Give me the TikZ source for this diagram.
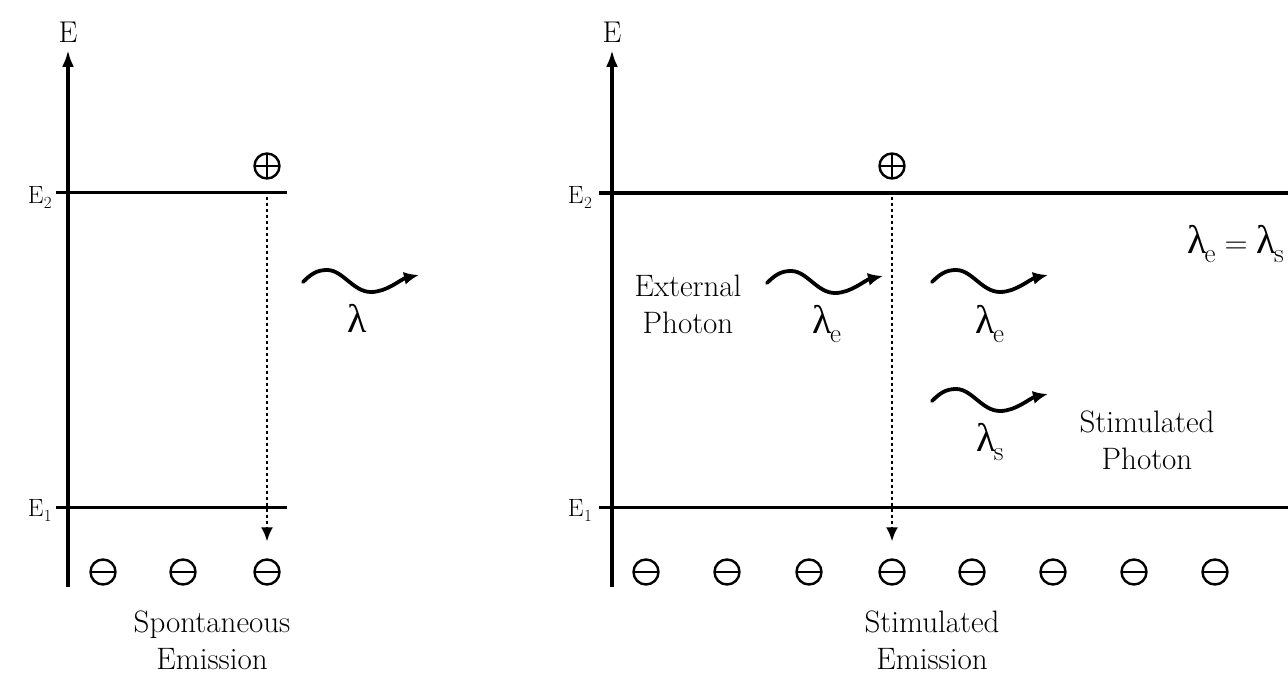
\documentclass[tikz,border=0pt]{standalone}
\usepackage{fontspec}
\newfontfamily\grk{Liberation Serif}
\usetikzlibrary{arrows.meta}
\newcommand{\lamsub}[1]{{\grk λ}\kern-2pt\raisebox{-9pt}{\fontsize{27}{27}\selectfont #1}}
\newcommand{\elev}[1]{E\kern0.5pt\raisebox{-5pt}{\fontsize{17}{17}\selectfont #1}}
\begin{document}
\begin{tikzpicture}[x=1pt,y=-1pt,
  axis/.style={line width=4.5pt,-{Latex[length=17pt,width=12pt]}},
  level/.style={line width=3pt},
  transition/.style={line width=2.2pt,dash pattern=on 3.5pt off 2.5pt,-{Latex[length=14pt,width=12pt]}},
  wave/.style={line width=3.8pt,line cap=round,-{Latex[length=15pt,width=13pt]}},
  axlabel/.style={font=\fontsize{30}{32}\selectfont,inner sep=0pt},
  elabel/.style={font=\fontsize{25}{27}\selectfont,inner sep=0pt},
  txt/.style={font=\fontsize{31}{37}\selectfont,align=center,inner sep=0pt},
  lam/.style={font=\fontsize{40}{42}\selectfont,inner sep=0pt},
  hole/.style={circle,draw,line width=2.4pt,minimum size=25pt,inner sep=0pt,
    path picture={\draw[line width=2.4pt] (path picture bounding box.west) -- (path picture bounding box.east)
      (path picture bounding box.north) -- (path picture bounding box.south);}},
  elec/.style={circle,draw,line width=2.4pt,minimum size=25pt,inner sep=0pt,
    path picture={\draw[line width=2.4pt] (path picture bounding box.west) -- (path picture bounding box.east);}},
  photon/.pic={\draw[wave] (0,0) .. controls (8,-8) and (14,-12) .. (24,-12)
     .. controls (40,-12) and (50,10) .. (68,10) .. controls (84,10) and (98,-3) .. (116,-7);}
]
\useasboundingbox (0,0) rectangle (1288,679);

% ---------- left diagram ----------
\coordinate (A1b) at (68,587); \coordinate (A1t) at (68,50);
\draw[axis] (A1b) -- (A1t);
\node[axlabel] (E1ax) at (68,32) {E};
\coordinate (L2a) at (56,193); \coordinate (L2b) at (287,193);
\coordinate (L1a) at (56,507); \coordinate (L1b) at (287,507);
\draw[level] (L2a) -- (L2b);
\draw[level] (L1a) -- (L1b);
\node[elabel,anchor=east] (lE2) at (52,197) {\elev{2}};
\node[elabel,anchor=east] (lE1) at (52,510) {\elev{1}};
\node[hole] (p1) at (267,166) {};
\node[elec] (m1) at (103,572) {};
\node[elec] (m2) at (183,572) {};
\node[elec] (m3) at (267,572) {};
\draw[transition] ([yshift=-17pt]p1.south) -- ([yshift=17pt]m3.north);
\node[txt] (spont) at (212,640) {Spontaneous\\Emission};
\pic at (303,282) {photon};
\node[lam] (lam0) at (357,318) {{\grk λ}};

% ---------- right diagram ----------
\coordinate (A2b) at (612,587); \coordinate (A2t) at (612,50);
\draw[axis] (A2b) -- (A2t);
\node[axlabel] (E2ax) at (612,32) {E};
\coordinate (R2a) at (599,193); \coordinate (R2b) at (1288,193);
\coordinate (R1a) at (599,507); \coordinate (R1b) at (1288,507);
\draw[level,line width=3.4pt] (R2a) -- (R2b);
\draw[level] (R1a) -- (R1b);
\node[elabel,anchor=east] (rE2) at (592,197) {\elev{2}};
\node[elabel,anchor=east] (rE1) at (592,510) {\elev{1}};
\node[hole] (p2) at (892,166) {};
\foreach \i/\x in {1/646,2/727,3/809,4/892,5/972,6/1053,7/1134,8/1215}
  \node[elec] (n\i) at (\x,572) {};
\draw[transition] ([yshift=-17pt]p2.south) -- ([yshift=17pt]n4.north);
\node[txt] (stim) at (932,640) {Stimulated\\Emission};
\node[txt] (ext) at (688,304) {External\\Photon};
\pic at (767,283) {photon};
\node[lam] (lamE1) at (827,324) {\lamsub{e}};
\pic at (932,282) {photon};
\node[lam] (lamE2) at (990,324) {\lamsub{e}};
\pic at (932,401) {photon};
\node[lam] (lamS) at (990,442) {\lamsub{s}};
\node[txt] (stimph) at (1147,440) {Stimulated\\Photon};
\node[lam,anchor=east] (eq) at (1284,244) {\lamsub{e}\hspace{9pt}{\fontsize{32}{32}\selectfont =}\hspace{9pt}\lamsub{s}};
\end{tikzpicture}
\end{document}
